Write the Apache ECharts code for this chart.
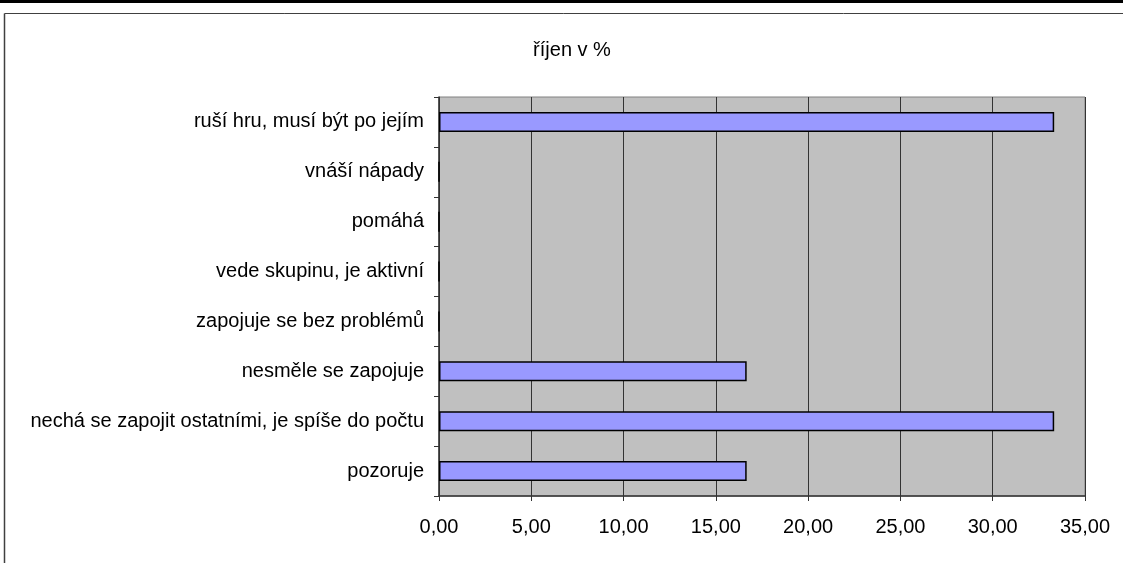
<!DOCTYPE html>
<html>
<head>
<meta charset="utf-8">
<script src="https://cdn.jsdelivr.net/npm/echarts@6/dist/echarts.min.js"></script>
<style>
html,body{margin:0;padding:0;background:#fff;}
#c{width:1123px;height:563px;}
</style>
</head>
<body>
<div id="c"></div>
<script>
const titleText = 'říjen v %';
const categories = [
  'ruší hru, musí být po jejím',
  'vnáší nápady',
  'pomáhá',
  'vede skupinu, je aktivní',
  'zapojuje se bez problémů',
  'nesměle se zapojuje',
  'nechá se zapojit ostatními, je spíše do počtu',
  'pozoruje'
];
const values = [33.33, 0, 0, 0, 0, 16.67, 33.33, 16.67];
const xMin = 0, xMax = 35, xStep = 5;

const chart = echarts.init(document.getElementById('c'), null, {renderer: 'canvas'});
const font = '"Liberation Sans", Arial, sans-serif';
chart.setOption({
  animation: false,
  backgroundColor: '#ffffff',
  title: {
    text: titleText,
    left: 567, top: 35, textAlign: 'center',
    textStyle: {fontFamily: font, fontSize: 20, fontWeight: 'normal', color: '#000'}
  },
  graphic: [
    {type: 'rect', shape: {x: 0, y: 0, width: 1123, height: 3}, style: {fill: '#000'}, silent: true},
    {type: 'line', shape: {x1: 4.5, y1: 13.5, x2: 1123, y2: 13.5}, style: {stroke: '#404040', lineWidth: 1}, silent: true},
    {type: 'line', shape: {x1: 4.5, y1: 13.5, x2: 4.5, y2: 563}, style: {stroke: '#404040', lineWidth: 1.5}, silent: true}
  ],
  grid: {
    left: 439, top: 97, right: 38, bottom: 67,
    show: true, backgroundColor: '#c0c0c0', borderColor: '#808080', borderWidth: 1
  },
  xAxis: {
    type: 'value', min: xMin, max: xMax, interval: xStep,
    axisLine: {show: true, lineStyle: {color: '#333', width: 1.5}},
    axisTick: {show: true, length: 5, lineStyle: {color: '#333'}},
    axisLabel: {
      fontFamily: font, fontSize: 20, color: '#000', margin: 21,
      formatter: v => v.toFixed(2).replace('.', ',')
    },
    splitLine: {show: true, lineStyle: {color: '#333', width: 1}}
  },
  yAxis: {
    type: 'category', data: categories, inverse: true,
    axisLine: {show: true, lineStyle: {color: '#333', width: 1.5}},
    axisTick: {show: true, length: 5, lineStyle: {color: '#333'}},
    axisLabel: {fontFamily: font, fontSize: 20, color: '#000', margin: 15},
    splitLine: {show: false}
  },
  series: [{
    type: 'bar', data: values, barWidth: 20,
    itemStyle: {color: '#9999ff', borderColor: '#000', borderWidth: 1.5}
  }]
});
</script>
</body>
</html>
